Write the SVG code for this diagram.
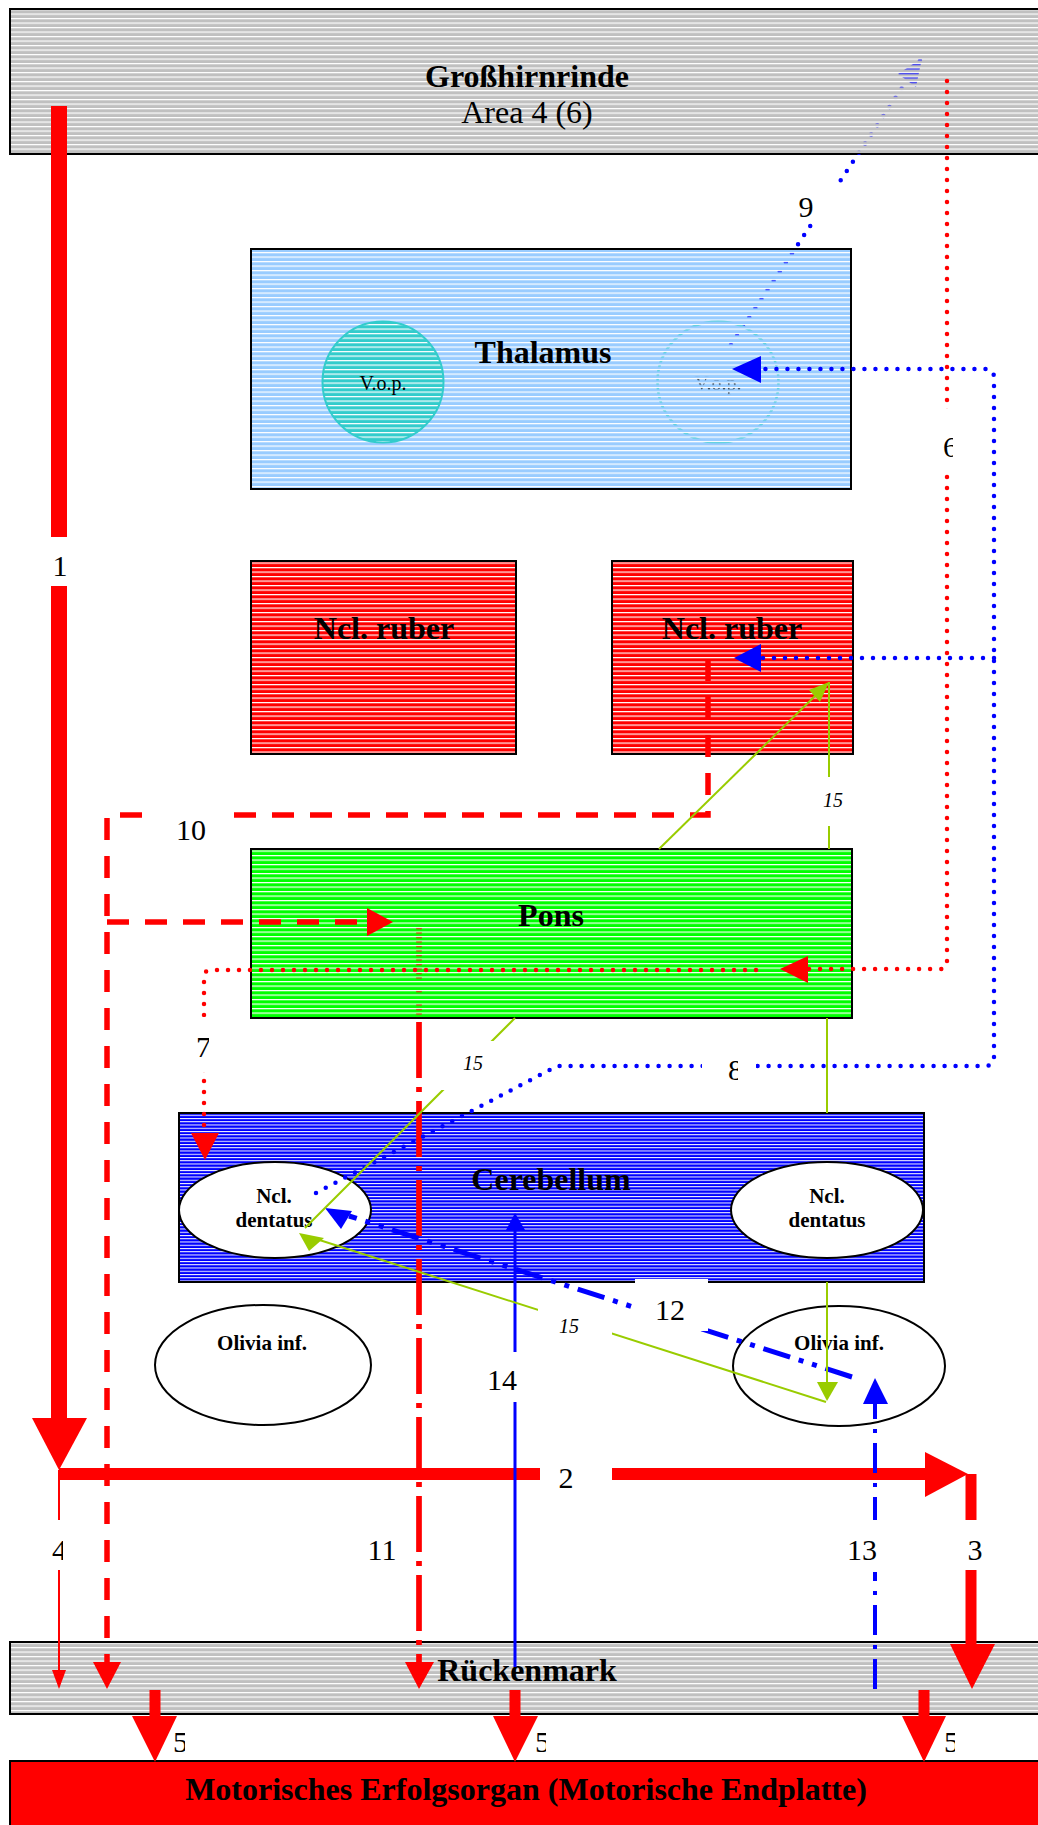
<svg xmlns="http://www.w3.org/2000/svg" width="1038" height="1825" viewBox="0 0 1038 1825">
<style>
text{font-family:"Liberation Serif","Times New Roman",serif;fill:#000}
.b{font-weight:bold;font-size:32px;text-anchor:middle}
.s{font-weight:bold;font-size:21px;text-anchor:middle}
.n{font-size:30px}
.m{text-anchor:middle}
.i{font-style:italic;font-size:20px;text-anchor:middle}
.box{stroke:#000;stroke-width:2}
.ell{fill:#fff;stroke:#000;stroke-width:2}
.bg{fill:#fff}
.thickR{stroke:#f00;fill:none}
.dashR{stroke:#f00;stroke-width:5.5;stroke-dasharray:22 16;fill:none}
.ddR{stroke:#f00;stroke-width:5.7;stroke-dasharray:56 9 5 9;fill:none}
.dotR{stroke:#f00;stroke-width:4.5;stroke-linecap:round;stroke-dasharray:0 11;fill:none}
.dotB{stroke:#00f;stroke-width:4.5;stroke-linecap:round;stroke-dasharray:0 11;fill:none}
.ddB{stroke:#00f;stroke-width:5;stroke-dasharray:28 9 5 9 5 9;fill:none}
.dB{stroke:#00f;stroke-width:4;stroke-dasharray:30 10 4 10;fill:none}
.sB{stroke:#00f;stroke-width:3;fill:none}
.g{stroke:#99CC00;stroke-width:2;fill:none}
.hR{fill:#f00}.hB{fill:#00f}.hG{fill:#99CC00}
</style>
<defs>
<pattern id="pGray" width="8" height="4.5" patternUnits="userSpaceOnUse"><rect width="8" height="4.5" fill="#C0C0C0"/><rect width="8" height="1.2" fill="#fff"/></pattern>
<pattern id="pThal" width="8" height="4.5" patternUnits="userSpaceOnUse"><rect width="8" height="4.5" fill="#99CCFF"/><rect width="8" height="1.2" fill="#fff"/></pattern>
<pattern id="pRed" width="8" height="4.5" patternUnits="userSpaceOnUse"><rect width="8" height="4.5" fill="#FF0000"/><rect width="8" height="1.2" fill="#fff"/></pattern>
<pattern id="pGreen" width="8" height="4.5" patternUnits="userSpaceOnUse"><rect width="8" height="4.5" fill="#00FF00"/><rect width="8" height="1.2" fill="#fff"/></pattern>
<pattern id="pTurq" width="8" height="4.5" patternUnits="userSpaceOnUse"><rect width="8" height="4.5" fill="#33CCCC"/><rect width="8" height="1.2" fill="#fff"/></pattern>
<pattern id="pBlue" width="8" height="3.25" patternUnits="userSpaceOnUse"><rect width="8" height="3.25" fill="#0000FF"/><rect width="8" height="1" fill="#fff"/></pattern>
<pattern id="slit" width="8" height="4.5" patternUnits="userSpaceOnUse"><rect y="1.2" width="8" height="0.9" fill="#fff"/></pattern>
<mask id="mSlit" maskUnits="userSpaceOnUse" x="0" y="0" width="1038" height="1825">
<rect x="10" y="9" width="1040" height="145" fill="url(#slit)"/>
<rect x="251" y="249" width="600" height="240" fill="url(#slit)"/>
<rect x="251" y="849" width="601" height="169" fill="url(#slit)"/>
</mask>
<clipPath id="cGap9"><rect x="600" y="154" width="400" height="95"/></clipPath>
<clipPath id="c4"><rect x="40" y="1520" width="23" height="50"/></clipPath>
<clipPath id="c6"><rect x="935" y="409" width="18" height="64"/></clipPath>
<clipPath id="c7"><rect x="190" y="1017" width="19" height="55"/></clipPath>
<clipPath id="c8"><rect x="715" y="1050" width="23" height="40"/></clipPath>
<clipPath id="c5"><rect x="165" y="1725" width="20" height="35"/><rect x="527" y="1725" width="19" height="35"/><rect x="936" y="1725" width="19" height="35"/></clipPath>
</defs>
<rect width="1038" height="1825" fill="#fff"/>

<g id="grosshirnrinde">
<rect class="box" x="10" y="9" width="1040" height="145" fill="url(#pGray)"/>
<text class="b" x="527" y="87">Großhirnrinde</text>
<text x="527" y="123" style="font-size:32px;text-anchor:middle">Area 4 (6)</text>
</g>
<g id="thalamus">
<rect class="box" x="251" y="249" width="600" height="240" fill="url(#pThal)"/>
<text class="b" x="543" y="363">Thalamus</text>
</g>
<g id="vop-left">
<circle cx="383" cy="382" r="60.5" fill="url(#pTurq)" stroke="#33CCCC" stroke-width="2"/>
<text x="383" y="390" style="font-size:20px;text-anchor:middle">V.o.p.</text>
</g>
<g id="ruber-left">
<rect class="box" x="251" y="561" width="265" height="193" fill="url(#pRed)"/>
<text class="b" x="384" y="639">Ncl. ruber</text>
</g>
<g id="ruber-right">
<rect class="box" x="612" y="561" width="241" height="193" fill="url(#pRed)"/>
<text class="b" x="732" y="639">Ncl. ruber</text>
</g>
<g id="pons">
<rect class="box" x="251" y="849" width="601" height="169" fill="url(#pGreen)"/>
<text class="b" x="551" y="926">Pons</text>
</g>
<g id="cerebellum">
<rect class="box" x="179" y="1113" width="745" height="169" fill="url(#pBlue)"/>
<text class="b" x="551" y="1190">Cerebellum</text>
</g>
<g id="dentatus-left">
<ellipse class="ell" cx="275" cy="1210" rx="96" ry="48"/>
<text class="s" x="274" y="1203">Ncl.</text>
<text class="s" x="274" y="1227">dentatus</text>
</g>
<g id="dentatus-right">
<ellipse class="ell" cx="827" cy="1210" rx="96" ry="48"/>
<text class="s" x="827" y="1203">Ncl.</text>
<text class="s" x="827" y="1227">dentatus</text>
</g>
<g id="olive-left">
<ellipse class="ell" cx="263" cy="1365" rx="108" ry="60"/>
<text class="s" x="262" y="1350">Olivia inf.</text>
</g>
<g id="olive-right">
<ellipse class="ell" cx="839" cy="1366" rx="106" ry="60"/>
<text class="s" x="839" y="1350">Olivia inf.</text>
</g>
<g id="rueckenmark">
<rect class="box" x="10" y="1642" width="1040" height="72" fill="url(#pGray)"/>
<text class="b" x="527" y="1681">Rückenmark</text>
</g>
<g id="motor">
<rect class="box" x="10" y="1761" width="1040" height="80" fill="#FF0000"/>
<text class="b" x="526" y="1800">Motorisches Erfolgsorgan (Motorische Endplatte)</text>
</g>

<g id="hidden-through-stripes" mask="url(#mSlit)">
<path class="dotB" d="M731,345 L922,58"/>
<polygon class="hB" points="922,58 916,87 898,74"/>
<circle id="vop-right" cx="718" cy="382" r="60.5" fill="none" stroke="#33CCCC" stroke-width="2.5"/>
<text x="718" y="390" style="font-size:20px;text-anchor:middle">V.o.p.</text>
<path class="ddR" d="M419,925 V1018"/>
</g>

<g id="connectors">
<!-- 9 -->
<path class="dotB" d="M731,345 L922,58" clip-path="url(#cGap9)"/>
<!-- 1 -->
<path class="thickR" stroke-width="16" d="M59,106 V1420"/>
<polygon class="hR" points="32,1418 87,1418 59,1470"/>
<!-- 2 -->
<path class="thickR" stroke-width="12" d="M59,1474 H926"/>
<polygon class="hR" points="925,1452 925,1497 968,1474"/>
<!-- 3 -->
<path class="thickR" stroke-width="11" d="M971,1474 V1646"/>
<polygon class="hR" points="950,1644 995,1644 972,1689"/>
<!-- 4 -->
<path class="thickR" stroke-width="2" d="M59,1470 V1672"/>
<polygon class="hR" points="52,1670 66,1670 59,1689"/>
<!-- 5 -->
<path class="thickR" stroke-width="11" d="M155,1690 V1718 M515,1690 V1718 M924,1690 V1718"/>
<polygon class="hR" points="132,1716 177,1716 155,1762"/>
<polygon class="hR" points="493,1716 538,1716 515,1762"/>
<polygon class="hR" points="902,1716 946,1716 924,1762"/>
<!-- 10 -->
<path class="dashR" d="M708,659 V815 H107 V1664"/>
<path class="dashR" d="M107,922 H368"/>
<polygon class="hR" points="93,1662 121,1662 107,1689"/>
<polygon class="hR" points="367,908 367,936 393,922"/>
<!-- 11 -->
<path class="ddR" d="M419,1022 V1664"/>
<polygon class="hR" points="405,1662 434,1662 419,1689"/>
<!-- 6 -->
<path class="dotR" d="M947,81 V962 Q947,969 940,969 H808"/>
<polygon class="hR" points="808,956 808,983 780,969"/>
<!-- 7 -->
<path class="dotR" d="M756,970 H211 Q204,970 204,977 V1133"/>
<polygon class="hR" points="191,1133 219,1133 205,1160"/>
<!-- 8 -->
<path class="dotB" d="M316,1193 L557,1066 H985 Q994,1066 994,1057 V378 Q994,369 985,369 H761"/>
<path class="dotB" d="M994,658 H761"/>
<polygon class="hB" points="761,356 761,383 732,369"/>
<polygon class="hB" points="761,644 761,672 734,658"/>
<!-- 12 -->
<path class="ddB" d="M852,1377 L349,1216"/>
<polygon class="hB" points="325,1208 352,1211 341,1229"/>
<!-- 13 -->
<path class="dB" d="M875,1689 V1404"/>
<polygon class="hB" points="863,1404 888,1404 875,1378"/>
<!-- 14 -->
<path class="sB" d="M515,1667 V1230"/>
<polygon class="hB" points="506,1230 525,1230 515,1213"/>
<!-- 15 -->
<path class="g" d="M829,682 V849"/>
<path class="g" d="M659,849 L816,695"/>
<polygon class="hG" points="829,682 820,702 809,690"/>
<path class="g" d="M515,1018 L305,1228"/>
<path class="g" d="M827,1018 V1113"/>
<path class="g" d="M827,1282 V1383"/>
<polygon class="hG" points="817,1382 838,1382 827,1401"/>
<path class="g" d="M826,1402 L310,1237"/>
<polygon class="hG" points="299,1233 324,1238 309,1251"/>
</g>

<g id="labels">
<rect class="bg" x="48" y="537" width="22" height="49"/>
<text class="n m" x="60" y="576">1</text>
<rect class="bg" x="142" y="805" width="92" height="22"/>
<text class="n m" x="191" y="840">10</text>
<rect class="bg" x="540" y="1465" width="72" height="20"/>
<text class="n m" x="566" y="1488">2</text>
<rect class="bg" x="960" y="1520" width="25" height="50"/>
<text class="n m" x="975" y="1560">3</text>
<rect class="bg" x="50" y="1520" width="15" height="50"/>
<text class="n" x="52" y="1560" clip-path="url(#c4)">4</text>
<text class="n m" x="382" y="1560">11</text>
<rect class="bg" x="845" y="1520" width="35" height="52"/>
<text class="n m" x="862" y="1560">13</text>
<rect class="bg" x="485" y="1352" width="35" height="50"/>
<text class="n m" x="502" y="1390">14</text>
<rect class="bg" x="635" y="1279" width="73" height="52"/>
<text class="n m" x="670" y="1320">12</text>
<rect class="bg" x="815" y="777" width="35" height="49"/>
<text class="i" x="833" y="807">15</text>
<rect class="bg" x="440" y="1041" width="62" height="49"/>
<text class="i" x="473" y="1070">15</text>
<rect class="bg" x="538" y="1306" width="74" height="34"/>
<text class="i" x="569" y="1333">15</text>
<rect class="bg" x="935" y="409" width="20" height="64"/>
<text class="n" x="943" y="457" clip-path="url(#c6)">6</text>
<rect class="bg" x="194" y="1017" width="17" height="55"/>
<text class="n" x="196" y="1057" clip-path="url(#c7)">7</text>
<rect class="bg" x="702" y="1055" width="54" height="23"/>
<text class="n" x="728" y="1080" clip-path="url(#c8)">8</text>
<rect class="bg" x="792" y="182" width="46" height="40"/>
<text class="n m" x="806" y="217">9</text>
<g clip-path="url(#c5)">
<text class="n" x="173" y="1752">5</text>
<text class="n" x="535" y="1752">5</text>
<text class="n" x="944" y="1752">5</text>
</g>
</g>
</svg>
